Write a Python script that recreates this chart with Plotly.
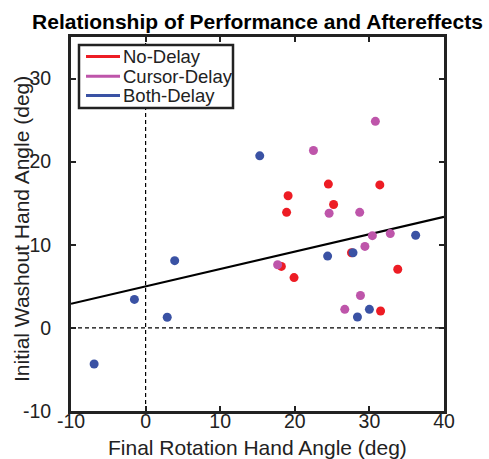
import plotly.graph_objects as go

# ---- data ----
no_delay_x = [24.5, 31.4, 19.1, 18.9, 25.2, 18.2, 19.9, 27.6, 33.8, 31.5]
no_delay_y = [17.3, 17.2, 15.9, 13.9, 14.85, 7.4, 6.05, 9.04, 7.05, 2.03]

cursor_delay_x = [30.8, 22.5, 24.6, 28.7, 30.4, 32.8, 29.4, 17.7, 28.8, 26.7]
cursor_delay_y = [24.85, 21.35, 13.8, 13.9, 11.1, 11.35, 9.8, 7.6, 3.9, 2.23]

both_delay_x = [15.3, 24.4, 27.8, 36.2, 30.0, 28.4, -6.9, -1.5, 2.9, 3.9]
both_delay_y = [20.7, 8.64, 9.04, 11.15, 2.23, 1.31, -4.34, 3.43, 1.28, 8.09]

fit_slope = 0.209
fit_intercept = 4.99

x_range = [-10, 40]
y_range = [-10, 35]
x_ticks = [-10, 0, 10, 20, 30, 40]
y_ticks = [-10, 0, 10, 20, 30]

series_names = ["No-Delay", "Cursor-Delay", "Both-Delay"]
series_colors = ["#ED1C24", "#BE55AA", "#3A52A4"]
series_x = [no_delay_x, cursor_delay_x, both_delay_x]
series_y = [no_delay_y, cursor_delay_y, both_delay_y]

title_text = "Relationship of Performance and Aftereffects"
x_title = "Final Rotation Hand Angle (deg)"
y_title = "Initial Washout Hand Angle (deg)"

font_family = "Liberation Sans, Arial, Helvetica, sans-serif"
ink = "#222222"

W, H = 489, 459
L, R, T, B = 71, 45, 37, 48
PW, PH = W - L - R, H - T - B


def px_to_paper(px, py):
    return (px - L) / PW, (H - B - py) / PH


fig = go.Figure()

# regression line
fit_x = x_range
fit_y = [fit_intercept + fit_slope * v for v in fit_x]
fig.add_trace(go.Scatter(x=fit_x, y=fit_y, mode="lines",
                         line=dict(color="black", width=2.2),
                         showlegend=False, hoverinfo="skip"))

for name, xs, ys, col in zip(series_names, series_x, series_y, series_colors):
    fig.add_trace(go.Scatter(x=xs, y=ys, mode="markers", name=name,
                             marker=dict(color=col, size=9, line=dict(width=0)),
                             showlegend=False))

# zero reference lines
fig.add_shape(type="line", x0=0, x1=0, y0=y_range[0], y1=y_range[1],
              xref="x", yref="y", line=dict(color="black", width=1.2, dash="4px,3px"),
              layer="below")
fig.add_shape(type="line", x0=x_range[0], x1=x_range[1], y0=0, y1=0,
              xref="x", yref="y", line=dict(color="black", width=1.2, dash="4px,3px"),
              layer="below")

# legend (drawn manually, MATLAB style)
bx0, by0 = px_to_paper(79, 45)
bx1, by1 = px_to_paper(233, 108)
fig.add_shape(type="rect", xref="paper", yref="paper", x0=bx0, x1=bx1, y0=by1, y1=by0,
              line=dict(color=ink, width=2.5), fillcolor="white", layer="above")
row_y = [56.5, 76.3, 95.5]
for name, col, ry in zip(series_names, series_colors, row_y):
    lx0, ly = px_to_paper(86, ry)
    lx1, _ = px_to_paper(120, ry)
    tx, _ = px_to_paper(121, ry)
    fig.add_shape(type="line", xref="paper", yref="paper", x0=lx0, x1=lx1, y0=ly, y1=ly,
                  line=dict(color=col, width=3), layer="above")
    fig.add_annotation(xref="paper", yref="paper", x=tx, y=ly, text=name,
                       showarrow=False, xanchor="left", yanchor="middle",
                       font=dict(size=18.5, color=ink, family=font_family))

# axis titles
xt_x, xt_y = px_to_paper(257.5, 447)
fig.add_annotation(xref="paper", yref="paper", x=xt_x, y=xt_y, text=x_title,
                   showarrow=False, xanchor="center", yanchor="middle",
                   font=dict(size=21, color=ink, family=font_family))
yt_x, yt_y = px_to_paper(21, 229)
fig.add_annotation(xref="paper", yref="paper", x=yt_x, y=yt_y, text=y_title,
                   showarrow=False, xanchor="center", yanchor="middle", textangle=-90,
                   font=dict(size=21, color=ink, family=font_family))

axis_common = dict(
    showgrid=False, zeroline=False, automargin=False,
    showline=True, linecolor=ink, linewidth=2.8, mirror="allticks",
    ticks="inside", ticklen=5, tickwidth=2, tickcolor=ink,
    tickfont=dict(size=19.5, color=ink, family=font_family),
)

fig.update_xaxes(range=x_range, tickvals=x_ticks, ticktext=[str(v) for v in x_ticks],
                 ticklabelstandoff=-9, **axis_common)
fig.update_yaxes(range=y_range, tickvals=y_ticks, ticktext=[str(v) for v in y_ticks],
                 ticklabelstandoff=13, **axis_common)

fig.update_layout(
    width=W, height=H,
    margin=dict(l=L, r=R, t=T, b=B, autoexpand=False),
    paper_bgcolor="white", plot_bgcolor="white",
    font=dict(family=font_family, color=ink),
    title=dict(text="<b>" + title_text + "</b>",
               font=dict(size=21, color="black", family=font_family),
               x=0.5, xanchor="center", y=1 - 22 / H, yanchor="middle",
               xref="paper"),
    showlegend=False,
)

fig.write_html("out.html", config={"displayModeBar": False},
               post_script="document.body.style.margin='0';")
